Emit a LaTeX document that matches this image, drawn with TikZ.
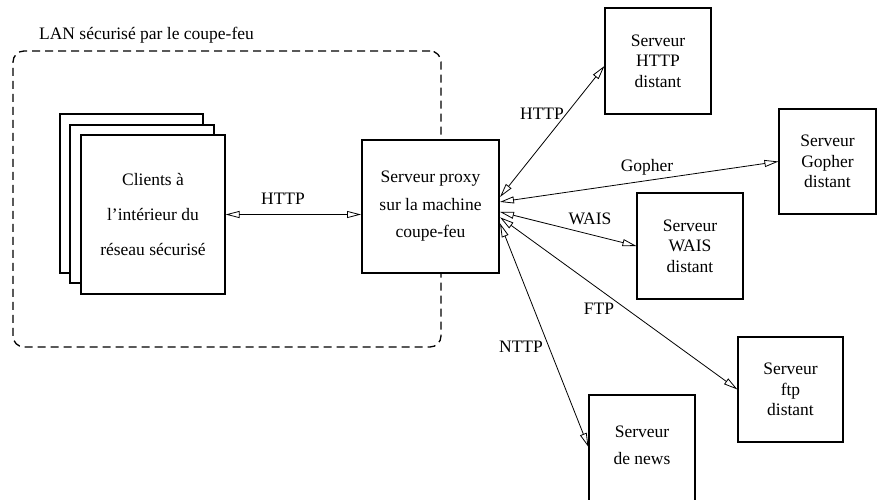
\documentclass[tikz,border=0pt]{standalone}
\usepackage{fontspec}
\setmainfont{Liberation Serif}
\usetikzlibrary{arrows.meta,calc}
\begin{document}
\begin{tikzpicture}[x=1pt,y=-1pt,
  box/.style={draw, line width=1.1pt, fill=white, inner sep=0pt, align=center, font=\fontsize{17.5}{20.5}\selectfont},
  tip/.tip={Triangle[open,length=14pt,width=7pt,line width=0.8pt]},
  conn/.style={line width=0.8pt, tip-tip},
  lbl/.style={inner sep=0pt, font=\fontsize{17.5}{21}\selectfont}
]
\useasboundingbox (0,0) rectangle (877,499);
% LAN region
\node[draw, line width=1.3pt, dash pattern=on 8pt off 5pt, rounded corners=11pt,
      minimum width=428pt, minimum height=296pt, inner sep=0pt] (lan) at (227,199) {};
\node[lbl, anchor=center] (lanlbl) at (146.5,35) {LAN sécurisé par le coupe-feu};
% client stack
\node[box, minimum width=143pt, minimum height=159pt] (cl3) at (131.5,193.5) {};
\node[box, minimum width=144pt, minimum height=158pt] (cl2) at (142,204) {};
\node[box, minimum width=144pt, minimum height=159pt,
      font=\fontsize{17.5}{35}\selectfont] (clients) at (153,214.5)
      {Clients à\\l’intérieur du\\réseau sécurisé};
% proxy
\node[box, line width=2pt, minimum width=137pt, minimum height=133pt,
      font=\fontsize{17.5}{27.5}\selectfont] (proxy) at (430.5,206.5)
      {Serveur proxy\\sur la machine\\coupe-feu};
% remote servers
\node[box, minimum width=106pt, minimum height=106pt] (http) at (658,61) {Serveur\\HTTP\\distant};
\node[box, minimum width=97pt, minimum height=105pt] (gopher) at (827.5,161.5) {Serveur\\Gopher\\distant};
\node[box, minimum width=106pt, minimum height=106pt] (wais) at (690,246) {Serveur\\WAIS\\distant};
\node[box, minimum width=105pt, minimum height=105pt] (ftp) at (790.5,389.5) {Serveur\\ftp\\distant};
\node[box, minimum width=106pt, minimum height=106pt] (news) at (642,448) {};
\node[lbl, align=center, font=\fontsize{17.5}{27}\selectfont] (newstext) at (642,445.5) {Serveur\\de news};
% proxy side end points
\coordinate (pH) at ($(proxy.north east)!0.43!(proxy.south east)$);
\coordinate (pG) at ($(proxy.north east)!0.466!(proxy.south east)$);
\coordinate (pW) at ($(proxy.north east)!0.54!(proxy.south east)$);
\coordinate (pF) at ($(proxy.north east)!0.58!(proxy.south east)$);
\coordinate (pN) at ($(proxy.north east)!0.624!(proxy.south east)$);
% connectors
\draw[conn] (clients.east) -- (clients.east -| proxy.west);
\draw[conn] (pH) -- ($(http.west)+(0,5)$);
\draw[conn] (pG) -- (gopher.west);
\draw[conn] (pW) -- (wais.west);
\draw[conn] (pF) -- (ftp.west);
\draw[conn] (pN) -- ($(news.west)+(0,-1)$);
% labels
\node[lbl] (lhttp0) at (283,199) {HTTP};
\node[lbl] (lhttp) at (542,114) {HTTP};
\node[lbl] (lgopher) at (647,167) {Gopher};
\node[lbl] (lwais) at (590,219) {WAIS};
\node[lbl] (lftp) at (599,309) {FTP};
\node[lbl] (lnttp) at (521,347) {NTTP};
\end{tikzpicture}
\end{document}
